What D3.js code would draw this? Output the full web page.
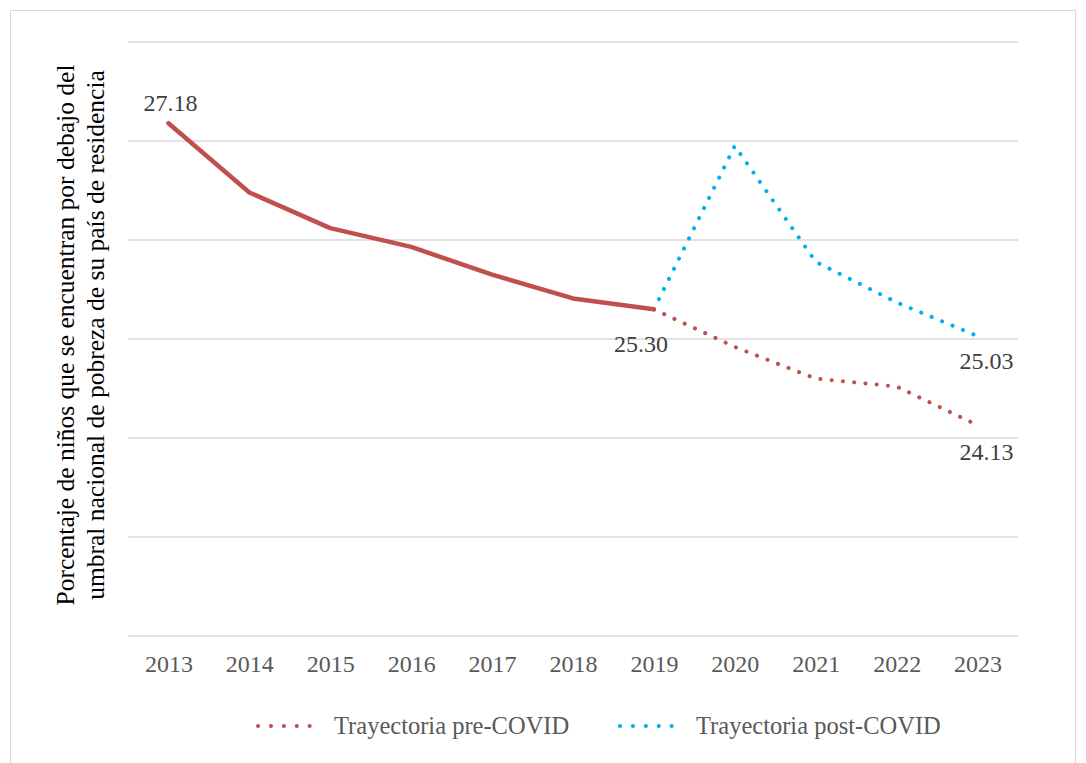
<!DOCTYPE html>
<html>
<head>
<meta charset="utf-8">
<script src="https://cdn.jsdelivr.net/npm/d3@7"></script>
<style>
  body { margin: 0; background: #fff; }
  svg text { font-family: "Liberation Serif", "DejaVu Serif", serif !important; }
</style>
</head>
<body>
<div id="chart"></div>
<script>
// Chart data
const years = ["2013", "2014", "2015", "2016", "2017", "2018", "2019", "2020", "2021", "2022", "2023"];
const historico = [27.18, 26.48, 26.12, 25.93, 25.65, 25.41, 25.30];
const preCovidYears = ["2019", "2020", "2021", "2022", "2023"];
const preCovid = [25.30, 24.92, 24.60, 24.52, 24.13];
const postCovidYears = ["2019", "2020", "2021", "2022", "2023"];
const postCovid = [25.30, 26.95, 25.78, 25.37, 25.03];
const yTicks = [22, 23, 24, 25, 26, 27, 28];
const yTitle = ["Porcentaje de niños que se encuentran por debajo del", "umbral nacional de pobreza de su país de residencia"];
const legendNames = ["Trayectoria pre-COVID", "Trayectoria post-COVID"];

const width = 1086;
const height = 763;
const red = "#c0504d";
const blue = "#00b0f0";

let svg = d3.select("#chart")
    .append("svg")
    .attr("width", width)
    .attr("height", height);

// Outer border
svg.append("rect")
    .attr("x", 10.5).attr("y", 10.5)
    .attr("width", 1065).attr("height", 760)
    .attr("fill", "none")
    .attr("stroke", "#d9d9d9")
    .attr("stroke-width", 1);

// Scales
let xScale = d3.scalePoint()
    .domain(years)
    .range([128, 1018])
    .padding(0.5);

let yScale = d3.scaleLinear()
    .domain([22, 28])
    .range([636, 42]);

// Gridlines
svg.append("g")
    .selectAll("line")
    .data(yTicks)
    .enter().append("line")
    .attr("x1", 128).attr("x2", 1018)
    .attr("y1", d => yScale(d)).attr("y2", d => yScale(d))
    .attr("stroke", "#d9d9d9")
    .attr("stroke-width", 1.5);

// X axis labels
let xAxis = d3.axisBottom(xScale).tickSize(0).tickPadding(19);
let gx = svg.append("g")
    .attr("transform", "translate(0,636)")
    .call(xAxis);
gx.select(".domain").remove();
gx.selectAll("text")
    .style("font-size", "24px")
    .attr("fill", "#595959");

// Y axis title
let title = svg.append("text")
    .attr("transform", "translate(80,335) rotate(-90)")
    .attr("text-anchor", "middle")
    .style("font-size", "25.5px")
    .attr("fill", "#000");
title.selectAll("tspan")
    .data(yTitle)
    .enter().append("tspan")
    .attr("x", 0)
    .attr("dy", (d, i) => i === 0 ? "-0.25em" : "1.2em")
    .text(d => d);

// Lines
let line = d3.line()
    .x(d => xScale(d[0]))
    .y(d => yScale(d[1]));

svg.append("path")
    .datum(preCovidYears.map((y, i) => [y, preCovid[i]]))
    .attr("fill", "none")
    .attr("stroke", red)
    .attr("stroke-width", 4)
    .attr("stroke-linecap", "round")
    .attr("stroke-dasharray", "0.1,11.2")
    .attr("d", line);

svg.append("path")
    .datum(postCovidYears.map((y, i) => [y, postCovid[i]]))
    .attr("fill", "none")
    .attr("stroke", blue)
    .attr("stroke-width", 4)
    .attr("stroke-linecap", "round")
    .attr("stroke-dasharray", "0.1,11.2")
    .attr("d", line);

svg.append("path")
    .datum(historico.map((v, i) => [years[i], v]))
    .attr("fill", "none")
    .attr("stroke", red)
    .attr("stroke-width", 4.5)
    .attr("stroke-linecap", "round")
    .attr("stroke-linejoin", "round")
    .attr("d", line);

// Data labels
const labels = [
    { year: "2013", value: historico[0], dx: 2, dy: -12 },
    { year: "2019", value: historico[6], dx: -13, dy: 43 },
    { year: "2023", value: postCovid[4], dx: 9, dy: 33 },
    { year: "2023", value: preCovid[4], dx: 9, dy: 35 }
];
svg.append("g")
    .selectAll("text")
    .data(labels)
    .enter().append("text")
    .attr("x", d => xScale(d.year) + d.dx)
    .attr("y", d => yScale(d.value) + d.dy)
    .attr("text-anchor", "middle")
    .style("font-size", "24px")
    .attr("fill", "#404040")
    .text(d => d.value.toFixed(2));

// Legend
const legendX = [258, 620];
const legendColors = [red, blue];
let legend = svg.append("g");
legendNames.forEach((name, i) => {
    legend.append("line")
        .attr("x1", legendX[i]).attr("x2", legendX[i] + 64)
        .attr("y1", 726).attr("y2", 726)
        .attr("stroke", legendColors[i])
        .attr("stroke-width", 4)
        .attr("stroke-linecap", "round")
        .attr("stroke-dasharray", "0.1,12.8");
    legend.append("text")
        .attr("x", legendX[i] + 76)
        .attr("y", 734)
        .style("font-size", "24.5px")
        .attr("fill", "#595959")
        .text(name);
});
</script>
</body>
</html>
